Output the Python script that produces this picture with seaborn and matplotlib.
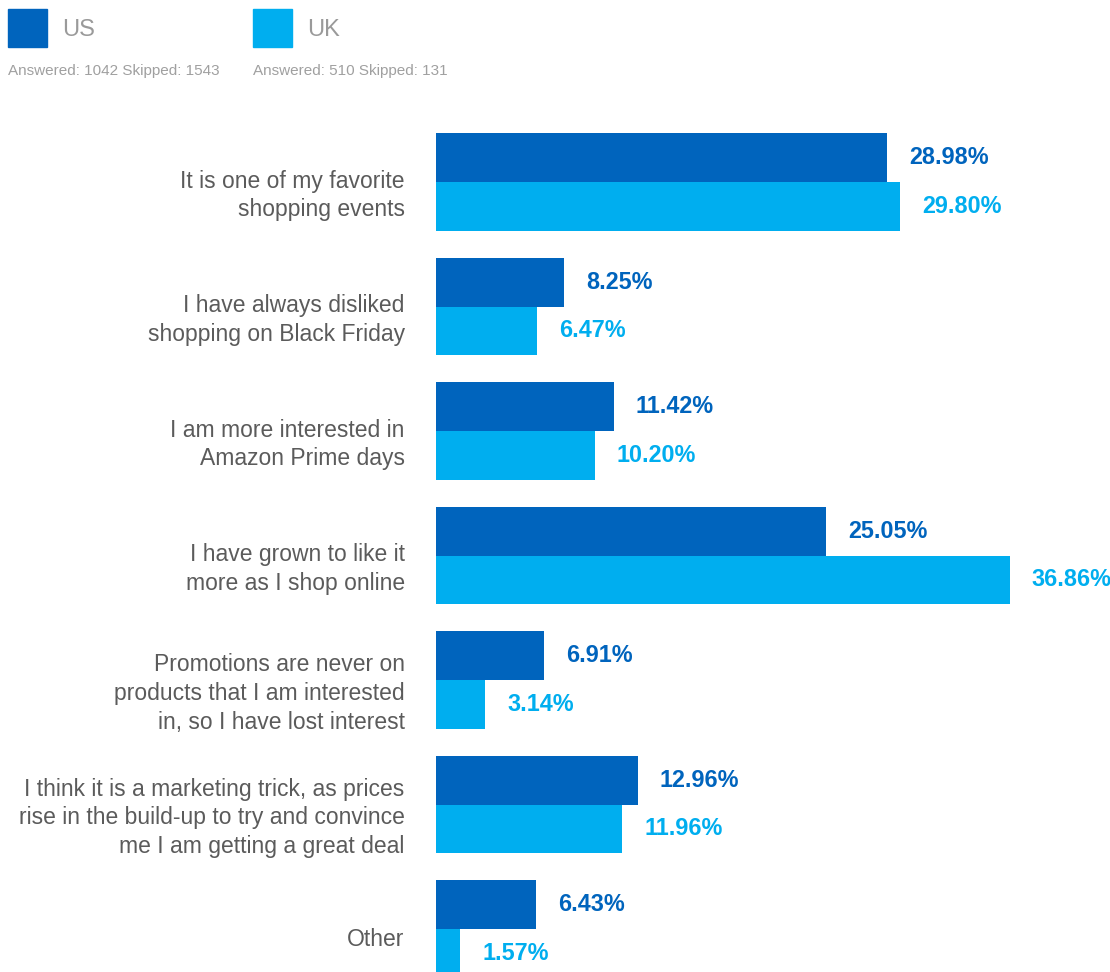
import matplotlib
matplotlib.use("Agg")
import matplotlib.pyplot as plt
from matplotlib.patches import Rectangle
from matplotlib.transforms import ScaledTranslation
import seaborn as sns
import pandas as pd

categories = [
    "It is one of my favorite\nshopping events",
    "I have always disliked\nshopping on Black Friday",
    "I am more interested in\nAmazon Prime days",
    "I have grown to like it\nmore as I shop online",
    "Promotions are never on\nproducts that I am interested\nin, so I have lost interest",
    "I think it is a marketing trick, as prices\nrise in the build-up to try and convince\nme I am getting a great deal",
    "Other",
]
us_values = [28.98, 8.25, 11.42, 25.05, 6.91, 12.96, 6.43]
uk_values = [29.80, 6.47, 10.20, 36.86, 3.14, 11.96, 1.57]
series = ["US", "UK"]
series_notes = ["Answered: 1042 Skipped: 1543", "Answered: 510 Skipped: 131"]
colors = {"US": "#0064BD", "UK": "#00AEEF"}

df = pd.DataFrame({
    "answer": categories * 2,
    "share": us_values + uk_values,
    "country": ["US"] * len(categories) + ["UK"] * len(categories),
})

sns.set_theme(style="white")
plt.rcParams["font.family"] = ["Liberation Sans", "DejaVu Sans"]

W, H = 1110, 972
fig = plt.figure(figsize=(W / 100, H / 100), dpi=100)
# axes placed in pixel terms: left edge 436, rows 124.5 px apart
row = 124.5
first_center = 182
ax_left, ax_right = 436, 1110
ax_top = first_center - row / 2
ax_bottom = first_center + row * (len(categories) - 0.5)
ax = fig.add_axes([ax_left / W, (H - ax_bottom) / H,
                   (ax_right - ax_left) / W, (ax_bottom - ax_top) / H])

sns.barplot(data=df, y="answer", x="share", hue="country", hue_order=series,
            palette=colors, orient="h", width=0.787, dodge=True,
            saturation=1, errorbar=None, legend=False, linewidth=0,
            edgecolor="none", ax=ax)

px_per_unit = 15.56
ax.set_xlim(0, (ax_right - ax_left) / px_per_unit)
ax.set_ylim(len(categories) - 0.5, -0.5)
for s in ax.spines.values():
    s.set_visible(False)
ax.set_xticks([])
ax.set_xlabel("")
ax.set_ylabel("")
ax.tick_params(axis="y", length=0, pad=22.5, labelsize=16.5, labelcolor="#5b5b5b")
shift = ScaledTranslation(0, -8 / 100, fig.dpi_scale_trans)
for lbl in ax.get_yticklabels():
    lbl.set_linespacing(1.32)
    lbl.set_transform(lbl.get_transform() + shift)

# value labels at the end of each bar
for container, name in zip(ax.containers, series):
    for bar in container:
        val = bar.get_width()
        ax.annotate(f"{val:.2f}%",
                    xy=(val, bar.get_y() + bar.get_height() / 2),
                    xytext=(16, 0), textcoords="offset points",
                    ha="left", va="center", fontsize=16.8, fontweight="bold",
                    color=colors[name], annotation_clip=False)

# legend across the top
for i, (name, note) in enumerate(zip(series, series_notes)):
    x0 = 8 + 245 * i
    fig.patches.append(Rectangle((x0 / W, (H - 47) / H), 39 / W, 38 / H,
                                 transform=fig.transFigure, color=colors[name]))
    fig.text((x0 + 54) / W, (H - 30) / H, name, fontsize=17, color="#9a9a9a",
             ha="left", va="center")
    fig.text(x0 / W, (H - 71) / H, note, fontsize=11, color="#a0a0a0",
             ha="left", va="center")

fig.savefig("out.png", dpi=100)
